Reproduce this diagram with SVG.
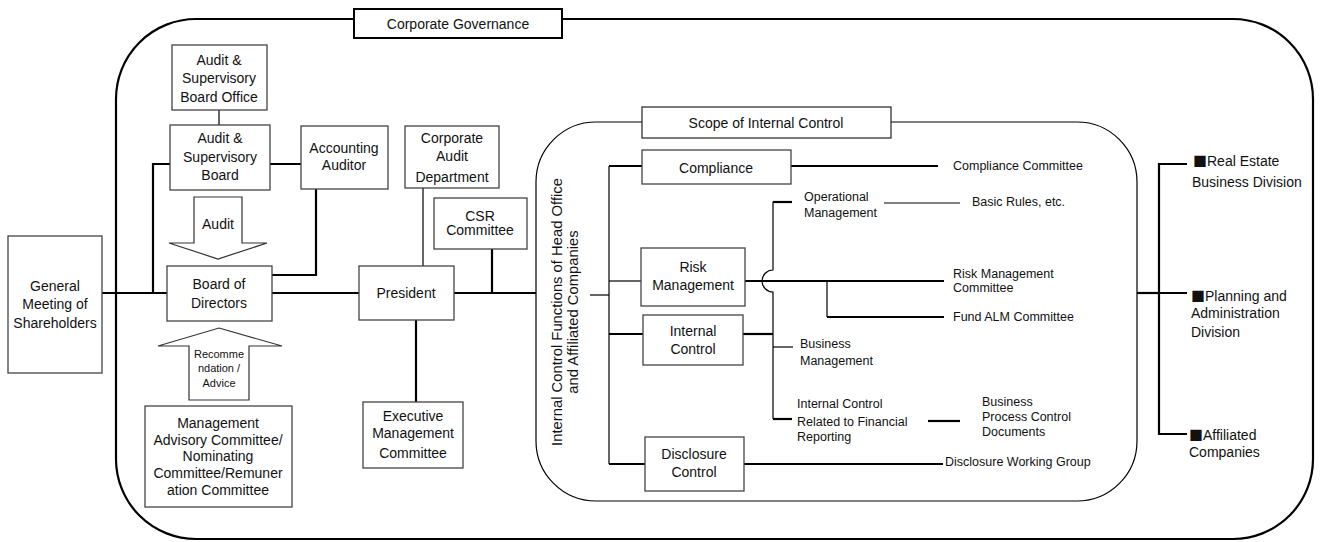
<svg xmlns="http://www.w3.org/2000/svg" width="1320" height="542" viewBox="0 0 1320 542">
<style>
text{font-family:"Liberation Sans",Arial,sans-serif;fill:#111;}
.t{font-size:14px;text-anchor:middle;}
.s{font-size:12.5px;}
.xs{font-size:11px;text-anchor:middle;}
.d{font-size:14px;}
.sq{font-family:"Noto Sans CJK JP",sans-serif;}
.box{fill:#fff;stroke:#444;stroke-width:1.3;}
.thick{fill:none;stroke:#000;stroke-width:2.2;}
.thin{fill:none;stroke:#000;stroke-width:1.2;}
</style>
<rect x="0" y="0" width="1320" height="542" fill="#fff"/>
<g id="frames">
<rect x="116" y="19" width="1197" height="520" rx="80" ry="80" fill="none" stroke="#000" stroke-width="2.2"/>
<rect x="536" y="122" width="601" height="379" rx="60" ry="60" fill="none" stroke="#000" stroke-width="1.2"/>
</g>
<g id="connectors">
<path class="thick" d="M102,293 H167 M272,293 H359 M454,293 H536"/>
<path class="thick" d="M167,293 H153 V164 H170 M270,164 H301"/>
<path class="thick" d="M316,189 V275 H272"/>
<path class="thin" d="M219,110 V125"/>
<path class="thin" d="M423,188 V266"/>
<path class="thick" d="M492,249 V293"/>
<path class="thick" d="M416,320 V402"/>
<path class="thin" d="M590,295 H609"/>
<path class="thin" d="M609,166 V464"/>
<path class="thick" d="M609,166 H642"/>
<path class="thin" d="M609,281 H641"/>
<path class="thick" d="M609,334 H643"/>
<path class="thick" d="M609,464 H645"/>
<path class="thick" d="M791,166 H938"/>
<path class="thin" d="M792,202 H773 V270 A11,11 0 0 0 773,292 V419"/>
<path class="thick" d="M773,202 H792"/>
<path class="thick" d="M743,334 H773"/>
<path class="thin" d="M773,347 H793"/>
<path class="thick" d="M773,419 H792"/>
<path class="thin" d="M884,203 H960"/>
<path class="thick" d="M745,281 H944"/>
<path class="thin" d="M827,281 V317"/>
<path class="thick" d="M827,317 H944"/>
<path class="thick" d="M928,421 H960"/>
<path class="thick" d="M744,464 H943"/>
<path class="thick" d="M1137,293 H1159"/>
<path class="thick" d="M1187,164 H1159 V434 H1187 M1159,293 H1187"/>
</g>
<g id="corporate-governance">
<rect x="354" y="9" width="208" height="29" fill="#fff" stroke="#000" stroke-width="2"/>
<text class="t" x="458" y="29">Corporate Governance</text>
</g>
<g id="general-meeting">
<rect class="box" x="8" y="236" width="94" height="137"/>
<text class="t" x="55" y="291">General</text>
<text class="t" x="55" y="309">Meeting of</text>
<text class="t" x="55" y="328">Shareholders</text>
</g>
<g id="asb-office">
<rect class="box" x="172" y="45" width="95" height="65"/>
<text class="t" x="219" y="65">Audit &amp;</text>
<text class="t" x="219" y="83">Supervisory</text>
<text class="t" x="219" y="102">Board Office</text>
</g>
<g id="asb">
<rect class="box" x="170" y="125" width="100" height="65"/>
<text class="t" x="220" y="143">Audit &amp;</text>
<text class="t" x="220" y="162">Supervisory</text>
<text class="t" x="220" y="180">Board</text>
</g>
<g id="accounting-auditor">
<rect class="box" x="301" y="126" width="87" height="63"/>
<text class="t" x="344" y="153">Accounting</text>
<text class="t" x="344" y="170">Auditor</text>
</g>
<g id="audit-arrow">
<polygon points="194,197 242,197 242,243 267,243 218,259 169,243 194,243" fill="#fff" stroke="#333" stroke-width="1.2"/>
<text class="t" x="218" y="229">Audit</text>
</g>
<g id="board">
<rect class="box" x="167" y="266" width="105" height="55"/>
<text class="t" x="219" y="289">Board of</text>
<text class="t" x="219" y="308">Directors</text>
</g>
<g id="recommendation-arrow">
<polygon points="219,328 282,346 249,346 249,400 189,400 189,346 158,346" fill="#fff" stroke="#333" stroke-width="1.2"/>
<text class="xs" x="219" y="358">Recomme</text>
<text class="xs" x="219" y="372">ndation /</text>
<text class="xs" x="219" y="387">Advice</text>
</g>
<g id="advisory">
<rect class="box" x="145" y="406" width="147" height="101"/>
<text class="t" x="218" y="428">Management</text>
<text class="t" x="218" y="445">Advisory Committee/</text>
<text class="t" x="218" y="461">Nominating</text>
<text class="t" x="218" y="478">Committee/Remuner</text>
<text class="t" x="218" y="495">ation Committee</text>
</g>
<g id="president">
<rect class="box" x="359" y="266" width="95" height="54"/>
<text class="t" x="406" y="298">President</text>
</g>
<g id="corporate-audit">
<rect class="box" x="405" y="126" width="94" height="62"/>
<text class="t" x="452" y="143">Corporate</text>
<text class="t" x="452" y="161">Audit</text>
<text class="t" x="452" y="182">Department</text>
</g>
<g id="csr">
<rect class="box" x="434" y="198" width="93" height="51"/>
<text class="t" x="480" y="221">CSR</text>
<text class="t" x="480" y="235">Committee</text>
</g>
<g id="executive">
<rect class="box" x="363" y="402" width="100" height="66"/>
<text class="t" x="413" y="421">Executive</text>
<text class="t" x="413" y="438">Management</text>
<text class="t" x="413" y="458">Committee</text>
</g>
<g id="scope-label">
<rect x="642" y="107" width="249" height="31" fill="#fff" stroke="#222" stroke-width="1.2"/>
<text class="t" x="766" y="128">Scope of Internal Control</text>
</g>
<g id="ic-functions">
<text class="t" style="font-size:14.8px" transform="translate(565,312) rotate(-90)" x="0" y="-3">Internal Control Functions of Head Office</text>
<text class="t" style="font-size:14.8px" transform="translate(565,312) rotate(-90)" x="0" y="13">and Affiliated Companies</text>
</g>
<g id="compliance">
<rect class="box" x="642" y="150" width="149" height="34"/>
<text class="t" x="716" y="173">Compliance</text>
</g>
<g id="risk">
<rect class="box" x="641" y="248" width="104" height="58"/>
<text class="t" x="693" y="272">Risk</text>
<text class="t" x="693" y="290">Management</text>
</g>
<g id="internal-control">
<rect class="box" x="643" y="315" width="100" height="50"/>
<text class="t" x="693" y="336">Internal</text>
<text class="t" x="693" y="354">Control</text>
</g>
<g id="disclosure">
<rect class="box" x="645" y="437" width="99" height="54"/>
<text class="t" x="694" y="459">Disclosure</text>
<text class="t" x="694" y="477">Control</text>
</g>
<g id="sub-labels">
<text class="s" x="953" y="170">Compliance Committee</text>
<text class="s" x="804" y="201">Operational</text>
<text class="s" x="804" y="217">Management</text>
<text class="s" x="972" y="206">Basic Rules, etc.</text>
<text class="s" x="953" y="278">Risk Management</text>
<text class="s" x="953" y="292">Committee</text>
<text class="s" x="953" y="321">Fund ALM Committee</text>
<text class="s" x="800" y="348">Business</text>
<text class="s" x="800" y="365">Management</text>
<text class="s" x="797" y="408">Internal Control</text>
<text class="s" x="797" y="426">Related to Financial</text>
<text class="s" x="797" y="441">Reporting</text>
<text class="s" x="982" y="406">Business</text>
<text class="s" x="982" y="421">Process Control</text>
<text class="s" x="982" y="436">Documents</text>
<text class="s" x="945" y="466">Disclosure Working Group</text>
</g>
<g id="divisions">
<text class="d" x="1193" y="166"><tspan class="sq">■</tspan>Real Estate</text>
<text class="d" x="1192" y="187">Business Division</text>
<text class="d" x="1191" y="301"><tspan class="sq">■</tspan>Planning and</text>
<text class="d" x="1191" y="318">Administration</text>
<text class="d" x="1191" y="337">Division</text>
<text class="d" x="1189" y="440"><tspan class="sq">■</tspan>Affiliated</text>
<text class="d" x="1189" y="457">Companies</text>
</g>
</svg>
